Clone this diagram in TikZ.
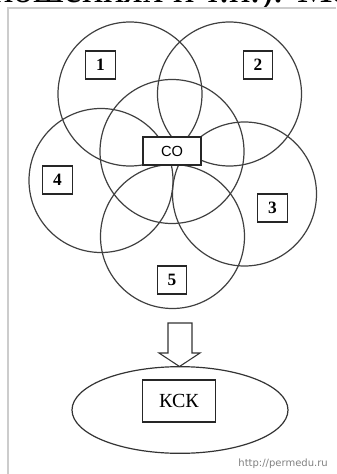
\documentclass[tikz,border=0pt]{standalone}
\usepackage{fontspec}
\setmainfont{Liberation Serif}
\newfontfamily\cofont{Liberation Sans}
\newfontfamily\wmfont{DejaVu Sans}
\usetikzlibrary{positioning,shapes.geometric}

\begin{document}
\begin{tikzpicture}[x=0.75pt,y=-0.75pt]
        \tikzset{
            zona/.style={
                draw=black!75,
                line width=0.9pt,
                circle,
                inner sep=0pt,
                minimum size=108pt
            },
            nomer/.style={
                draw=black!85,
                fill=white,
                line width=0.8pt,
                inner sep=0pt,
                minimum width=22pt,
                minimum height=21pt,
                font=\bfseries\fontsize{13}{13}\selectfont
            }
        }
        \useasboundingbox (0,0) rectangle (336,474);

        % obrezannyj zagolovok sverhu
        \begin{scope}
            \clip (0,0) rectangle (336,7);
            \node[anchor=base east, inner sep=0pt, font=\fontsize{30}{30}\selectfont] (zag) at (352,3) {ношениях и т.п.). Мо};
        \end{scope}
        \draw[black!20, line width=0.8pt] (336,8) -- (8,8) -- (8,474);

        \foreach \n/\x/\y in {1/130/94, 2/229.5/94, 0/172/151.5, 4/101/180.5, 3/244.5/194, 5/172.5/236.5} { %KRUGI
            \node[zona] (k\n) at (\x,\y) {};
        }

        \node[nomer] (n1) at (100.5,65) {1};
        \node[nomer] (n2) at (258,65) {2};
        \node[nomer] (n4) at (57.5,180) {4};
        \node[nomer] (n3) at (272.5,208) {3};
        \node[nomer] (n5) at (172,280) {5};
        \node[nomer, minimum width=43.5pt, font=\cofont\fontsize{11}{11}\selectfont] (co) at (172,151) {CO};

        \draw[black!80, line width=0.8pt] (168,323) -- (192,323) -- (192,353) -- (200,353)
            -- (179.5,366.5) -- (159,353) -- (168,353) -- cycle;

        \node[draw=black!80, line width=0.9pt, ellipse, inner sep=0pt,
              minimum width=162pt, minimum height=65pt] (kskzona) at (180,410) {};
        \node[draw=black!85, line width=0.8pt, inner sep=0pt, minimum width=55pt,
              minimum height=31.5pt, font=\fontsize{15}{15}\selectfont] (ksk) at (179,401) {КСК};

        \node[anchor=base east, inner sep=0pt, text=black!50,
              font=\wmfont\fontsize{7.5}{7.5}\selectfont] (sajt) at (328,466) {http://permedu.ru};

    \end{tikzpicture}
\end{document}
